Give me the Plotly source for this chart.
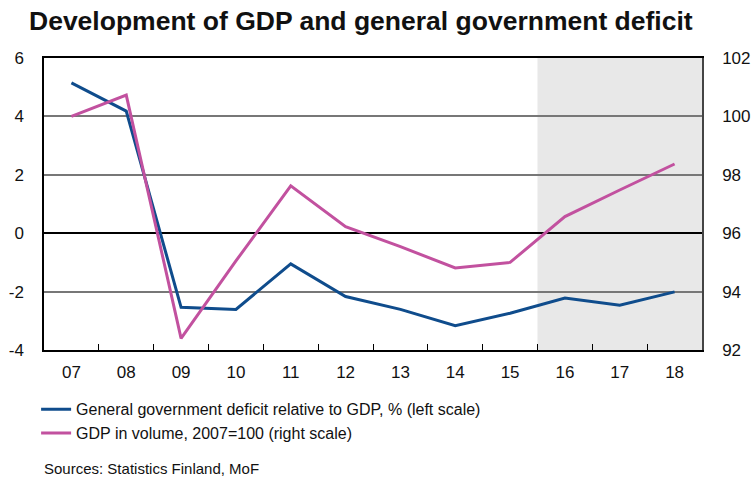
import plotly.graph_objects as go

# Years (two-digit labels) and series values
years = ["07", "08", "09", "10", "11", "12", "13", "14", "15", "16", "17", "18"]
deficit = [5.15, 4.18, -2.54, -2.61, -1.05, -2.17, -2.61, -3.17, -2.74, -2.22, -2.47, -2.01]
gdp_volume = [100.0, 100.73, 92.4, 95.05, 97.62, 96.22, 95.54, 94.81, 95.0, 96.57, 97.48, 98.37]

left_ticks = [-4, -2, 0, 2, 4, 6]
left_tick_labels = ["-4", "-2", "0", "2", "4", "6"]
right_ticks = [92, 94, 96, 98, 100, 102]
forecast_start = "16"

BLUE = "#0f4c8c"
PINK = "#c2519f"
FONT = "Liberation Sans, Arial, sans-serif"

fig = go.Figure()

fig.add_trace(go.Scatter(
    x=years, y=deficit, mode="lines",
    name="General government deficit relative to GDP, % (left scale)",
    line=dict(color=BLUE, width=3),
    yaxis="y",
))
fig.add_trace(go.Scatter(
    x=years, y=gdp_volume, mode="lines",
    name="GDP in volume, 2007=100 (right scale)",
    line=dict(color=PINK, width=3),
    yaxis="y2",
))

# Shaded forecast period
start_idx = years.index(forecast_start) - 0.5
fig.add_shape(
    type="rect", xref="x", yref="paper",
    x0=start_idx, x1=len(years) - 0.5, y0=0, y1=1,
    fillcolor="#e8e8e8", line=dict(width=0), layer="below",
)

fig.update_layout(
    width=756, height=484,
    margin=dict(l=44, r=54, t=58, b=134, autoexpand=False),
    paper_bgcolor="white", plot_bgcolor="white",
    font=dict(family=FONT, color="#111111", size=17),
    title=dict(
        text="<b>Development of GDP and general government deficit</b>",
        font=dict(size=26.5, color="#111111", family=FONT),
        x=29 / 756, xanchor="left", xref="container",
        y=1 - 21 / 484, yanchor="middle", yref="container",
    ),
    showlegend=True,
    legend=dict(
        x=-0.012, xanchor="left", y=-0.145, yanchor="top",
        font=dict(size=16, family=FONT, color="#111111"),
        bgcolor="rgba(0,0,0,0)", tracegroupgap=0, itemwidth=30,
    ),
    xaxis=dict(
        type="category", range=[-0.5, len(years) - 0.5], automargin=False,
        showline=True, linecolor="black", linewidth=1.5, mirror=True,
        ticks="inside", ticklen=6, tickcolor="black", tickson="boundaries",
        showgrid=False, tickfont=dict(size=17), ticklabelstandoff=6,
    ),
    yaxis=dict(
        range=[-4, 6], tickvals=left_ticks, ticktext=left_tick_labels,
        automargin=False,
        showline=True, linecolor="black", linewidth=1.5,
        showgrid=True, gridcolor="#777777", gridwidth=1.5,
        zeroline=True, zerolinecolor="black", zerolinewidth=1.5,
        ticks="", tickfont=dict(size=17), ticklabelstandoff=15,
    ),
    yaxis2=dict(
        range=[92, 102], tickvals=right_ticks, overlaying="y", side="right",
        automargin=False,
        showline=True, linecolor="#444444", linewidth=1.5,
        showgrid=False, zeroline=False,
        ticks="", tickfont=dict(size=17), ticklabelstandoff=15,
    ),
)

fig.add_annotation(
    text="Sources: Statistics Finland, MoF", xref="paper", yref="paper",
    x=-0.003, y=-0.405, xanchor="left", yanchor="middle", showarrow=False,
    font=dict(size=15, family=FONT, color="#111111"),
)

fig.write_html("out.html")
